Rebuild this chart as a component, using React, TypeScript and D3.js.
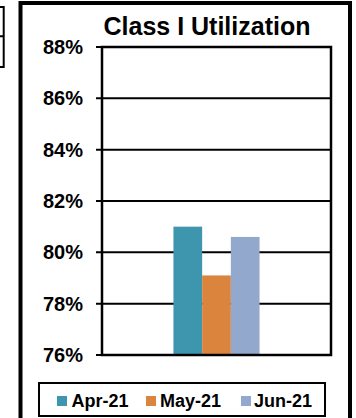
import React from "react";
import * as d3 from "d3";

const categories = ["Apr-21", "May-21", "Jun-21"];
const values = [0.81, 0.791, 0.806];
const colors = ["#3D96AE", "#DB843D", "#92A8CD"];
const yTicks = [0.76, 0.78, 0.8, 0.82, 0.84, 0.86, 0.88];
const groups = ["Class I"];
const title = "Class I Utilization";

const W = 356;
const H = 418;
const plot = { left: 102, right: 331, top: 47, bottom: 355 };
const FONT = "'Liberation Sans', Arial, sans-serif";

export default function App() {
  const y = d3.scaleLinear().domain([0.76, 0.88]).range([plot.bottom, plot.top]);
  const x0 = d3
    .scaleBand<string>()
    .domain(groups)
    .range([plot.left, plot.right])
    .paddingInner(0)
    .paddingOuter(0.83);
  const x1 = d3
    .scaleBand<string>()
    .domain(categories)
    .range([0, x0.bandwidth()])
    .padding(0);
  const fmt = d3.format(".0%");

  const legendSquares = [57, 146, 241];
  const legendTexts = [71.5, 160, 254];

  return (
    <svg
      width={W}
      height={H}
      style={{ position: "absolute", left: 0, top: 0, background: "#fff" }}
      fontFamily={FONT}
    >
      <rect x={0} y={0} width={W} height={H} fill="#fff" />
      {/* partial box at top-left */}
      <path d="M-2,7 H3.7 V67 H-2 M-2,36.3 H3.7" fill="none" stroke="#000" strokeWidth={2} />
      {/* outer frame */}
      <rect x={20.5} y={3} width={329.5} height={418} fill="none" stroke="#000" strokeWidth={4} />
      {/* title */}
      <text x={207} y={35} textAnchor="middle" fontSize={25} fontWeight="bold" fill="#000">
        {title}
      </text>
      {/* gridlines and ticks */}
      {yTicks.map((t) => (
        <g key={t}>
          <line x1={plot.left - 6} x2={plot.right} y1={y(t)} y2={y(t)} stroke="#000" strokeWidth={2} />
          <text
            x={83}
            y={y(t) + 7}
            textAnchor="end"
            fontSize={20}
            fontWeight="bold"
            fill="#000"
          >
            {fmt(t)}
          </text>
        </g>
      ))}
      {/* bars */}
      {groups.map((g) =>
        categories.map((c, i) => (
          <rect
            key={c}
            x={(x0(g) as number) + (x1(c) as number)}
            y={y(values[i])}
            width={x1.bandwidth()}
            height={y(0.76) - y(values[i])}
            fill={colors[i]}
          />
        ))
      )}
      {/* plot border */}
      <rect
        x={plot.left}
        y={plot.top}
        width={plot.right - plot.left}
        height={plot.bottom - plot.top}
        fill="none"
        stroke="#000"
        strokeWidth={2.5}
      />
      {/* legend */}
      <rect x={39} y={383} width={286} height={33} fill="#fff" stroke="#000" strokeWidth={2} />
      {categories.map((c, i) => (
        <g key={c}>
          <rect x={legendSquares[i]} y={396} width={10} height={10} fill={colors[i]} />
          <text x={legendTexts[i]} y={407} fontSize={18} fontWeight="bold" fill="#000">
            {c}
          </text>
        </g>
      ))}
    </svg>
  );
}
